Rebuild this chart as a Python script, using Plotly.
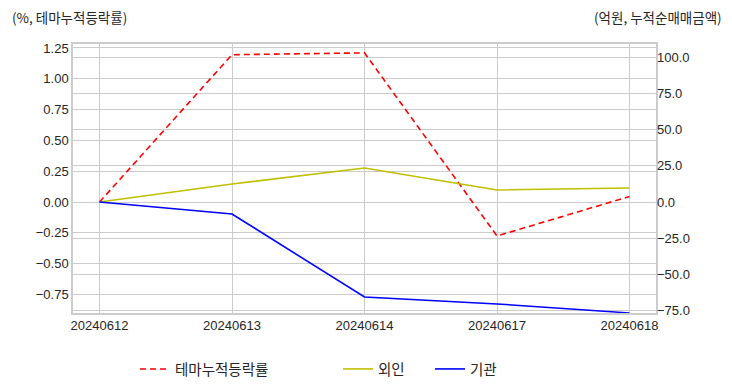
import plotly.graph_objects as go

dates = ["20240612", "20240613", "20240614", "20240617", "20240618"]
theme_ret = [0.0, 1.195, 1.21, -0.275, 0.045]
foreign = [0.0, 12.4, 23.4, 8.3, 9.7]
institution = [0.0, -8.3, -65.5, -70.3, -76.5]

grid = "#cccccc"
tickfont = dict(family="Liberation Sans, Arial, sans-serif", size=13, color="#262626")
titlefont = dict(family="Noto Sans CJK KR, sans-serif", size=13.5, color="#262626")
legfont = dict(family="Noto Sans CJK KR, sans-serif", size=14.5, color="#262626")

W, H = 724, 384
L, R, T, B = 65, 76, 36, 79
PW, PH = W - L - R, H - T - B

def px(xf):
    return (xf - L) / PW

fig = go.Figure()
fig.add_trace(go.Scatter(x=dates, y=theme_ret, name="테마누적등락률", mode="lines",
                         line=dict(color="#ff0000", width=1.6, dash="6px,4px"),
                         yaxis="y", legend="legend"))
fig.add_trace(go.Scatter(x=dates, y=foreign, name="외인", mode="lines",
                         line=dict(color="#bfbf00", width=1.6),
                         yaxis="y2", legend="legend2"))
fig.add_trace(go.Scatter(x=dates, y=institution, name="기관", mode="lines",
                         line=dict(color="#0000ff", width=1.6),
                         yaxis="y2", legend="legend2"))

fig.update_layout(
    width=W, height=H,
    margin=dict(l=L, r=R, t=T, b=B, autoexpand=False),
    paper_bgcolor="white", plot_bgcolor="white",
    xaxis=dict(type="category", range=[-0.2, 4.2], showgrid=True, gridcolor=grid, gridwidth=1,
               showline=True, linecolor=grid, linewidth=1.5, mirror=True,
               ticks="", tickfont=tickfont, zeroline=False),
    yaxis=dict(range=[-0.90, 1.282], tick0=0, dtick=0.25, tickformat=".2f",
               showgrid=True, gridcolor=grid, gridwidth=1, zeroline=False,
               showline=True, linecolor=grid, linewidth=1.5, mirror=True,
               ticks="", tickfont=tickfont),
    yaxis2=dict(range=[-76.55, 108.97], tick0=0, dtick=25, tickformat=".1f",
                overlaying="y", side="right", showgrid=True, gridcolor=grid, gridwidth=1,
                zeroline=False, ticks="", tickfont=tickfont),
    legend=dict(orientation="h", x=px(127), xanchor="left", y=-40 / PH, yanchor="top",
                font=legfont, bgcolor="rgba(0,0,0,0)"),
    legend2=dict(orientation="h", x=px(330), xanchor="left", y=-40 / PH, yanchor="top",
                 font=legfont, bgcolor="rgba(0,0,0,0)", entrywidth=47),
    showlegend=True,
)

fig.add_annotation(text="(%, 테마누적등락률)", xref="paper", yref="paper",
                   x=px(2), y=1 + 27 / PH, xanchor="left", yanchor="middle",
                   showarrow=False, font=titlefont)
fig.add_annotation(text="(억원, 누적순매매금액)", xref="paper", yref="paper",
                   x=px(716), y=1 + 27 / PH, xanchor="right", yanchor="middle",
                   showarrow=False, font=titlefont)

fig.write_html("out.html")
